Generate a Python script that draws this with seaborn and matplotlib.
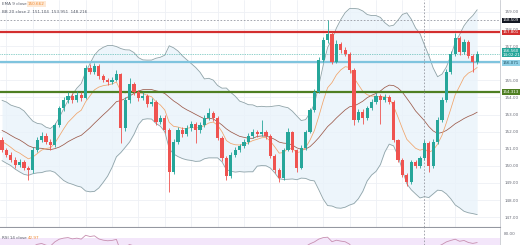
import numpy as np
import pandas as pd
import matplotlib
matplotlib.use("Agg")
import matplotlib.pyplot as plt
import matplotlib.transforms as mtransforms
import seaborn as sns

# ---------------- data ----------------
# closes before the visible window (only feed the indicators)
pre_closes = [152.8, 153.2, 153.5, 153.0, 152.6, 153.1, 153.4, 152.9, 152.3, 152.0,
              152.4, 151.8, 151.2, 151.6, 151.0, 150.6, 151.1, 151.5, 151.9, 151.4]

first_open = 151.51
closes = [150.93, 150.64, 150.34, 150.05, 150.23, 149.88, 149.76, 150.93, 151.51, 151.75,
          151.40, 151.22, 152.39, 153.38, 153.85, 154.09, 153.85, 154.14, 153.97, 155.72,
          155.49, 155.84, 155.26, 155.02, 154.90, 155.02, 155.37, 152.21, 153.85, 154.79,
          154.32, 153.97, 154.09, 153.62, 153.74, 152.57, 152.80, 152.10, 149.64, 151.40,
          152.10, 151.86, 152.21, 152.45, 152.10, 152.39, 152.80, 153.09, 152.80, 151.63,
          150.46, 149.41, 150.64, 150.93, 151.16, 151.40, 151.75, 151.98, 151.86, 151.98,
          151.75, 150.58, 149.76, 149.29, 150.93, 151.98, 150.93, 149.88, 151.05, 151.98,
          153.27, 154.32, 156.19, 157.36, 157.71, 156.07, 157.13, 156.78, 156.54, 155.61,
          152.68, 153.15, 152.80, 153.38, 153.74, 154.09, 153.85, 154.03, 153.74, 151.51,
          150.34, 149.47, 149.06, 150.23, 149.99, 150.46, 151.34, 149.99, 151.40, 152.68,
          153.85, 155.49, 156.54, 157.48, 156.66, 157.24, 156.43, 156.07, 156.56]
highs = [151.70, 151.05, 150.80, 150.50, 150.40, 150.35, 150.00, 151.10, 151.70, 152.00,
         151.90, 151.55, 152.50, 153.50, 154.05, 154.30, 154.25, 154.35, 154.30, 155.90,
         155.95, 156.00, 155.95, 155.40, 155.15, 155.20, 155.61, 155.45, 154.00, 155.14,
         154.90, 154.45, 154.30, 154.20, 153.95, 153.85, 153.00, 152.95, 152.20, 151.55,
         152.30, 152.25, 152.40, 152.60, 152.55, 152.55, 152.95, 153.38, 153.20, 152.90,
         151.75, 150.60, 150.80, 151.10, 151.30, 151.55, 151.90, 152.15, 152.10, 152.68,
         152.10, 151.85, 150.70, 149.90, 151.05, 152.21, 152.05, 151.00, 151.20, 152.10,
         153.40, 154.50, 156.35, 157.55, 158.53, 157.85, 157.36, 157.25, 156.95, 156.65,
         155.70, 153.35, 153.30, 153.50, 153.90, 154.25, 154.20, 154.20, 154.15, 153.85,
         151.60, 150.45, 149.60, 150.35, 150.35, 150.60, 151.50, 151.45, 151.55, 152.85,
         154.00, 155.65, 156.70, 157.77, 157.60, 157.40, 157.35, 156.55, 156.70]
lows = [150.80, 150.50, 150.20, 149.90, 149.95, 149.75, 149.17, 149.60, 150.80, 151.40,
        151.25, 150.95, 151.10, 152.25, 153.20, 153.70, 153.70, 153.75, 153.80, 153.90,
        155.35, 155.40, 155.10, 154.90, 154.75, 154.80, 154.95, 151.34, 152.05, 153.70,
        154.15, 153.80, 153.85, 153.45, 153.50, 152.40, 152.45, 151.90, 148.47, 149.50,
        151.25, 151.70, 151.75, 152.05, 151.34, 151.95, 152.25, 152.70, 152.65, 151.50,
        150.30, 149.17, 149.30, 150.50, 150.80, 151.05, 151.30, 151.65, 151.70, 151.75,
        151.60, 150.45, 149.60, 149.06, 149.20, 150.85, 150.80, 149.64, 149.80, 150.95,
        151.90, 153.15, 154.25, 156.10, 157.20, 155.95, 156.00, 156.60, 156.40, 155.45,
        152.39, 152.55, 152.45, 152.70, 153.25, 153.60, 152.45, 153.75, 153.60, 151.40,
        150.20, 149.35, 148.82, 148.95, 149.85, 149.90, 150.35, 149.64, 149.90, 151.30,
        152.55, 153.75, 155.40, 156.45, 156.50, 156.55, 156.30, 155.49, 155.95]

level_red = 157.801
level_blue = 156.071
level_green = 154.313
crosshair_price = 158.509
crosshair_bar = 96
price_ticks = [147, 148, 149, 150, 151, 152, 153, 154, 155, 156, 157, 158, 159]

legend_ema = ("EMA 9 close", "150.662")
legend_bb = "BB 20 close 2  151.104  153.951  148.216"
legend_rsi = ("RSI 14 close", "42.97")
badge_close = "156.560\n14:02:21"
rsi_tick = "80.00"

# ---------------- indicators ----------------
opens = [first_open] + closes[:-1]
allc = pd.Series(pre_closes + closes, dtype=float)
n = len(closes)
basis = allc.rolling(20).mean()
sd = allc.rolling(20).std(ddof=0)
upper = (basis + 2 * sd).iloc[-n:].to_numpy()
lower = (basis - 2 * sd).iloc[-n:].to_numpy()
mid = basis.iloc[-n:].to_numpy()
ema9 = allc.ewm(span=9, adjust=False).mean().iloc[-n:].to_numpy()
delta = allc.diff()
gain = delta.clip(lower=0).ewm(alpha=1 / 14, adjust=False).mean()
loss = (-delta.clip(upper=0)).ewm(alpha=1 / 14, adjust=False).mean()
rsi = (100 - 100 / (1 + gain / loss)).iloc[-n:].to_numpy()

idx = np.arange(n)
o = np.array(opens); c = np.array(closes); h = np.array(highs); l = np.array(lows)
up = c >= o
UPC, DNC = "#26a69a", "#ef5350"
cols = np.where(up, UPC, DNC)

# ---------------- figure ----------------
sns.set_style("white")
plt.rcParams["font.family"] = ["DejaVu Sans"]
W, H = 520, 245
fig = plt.figure(figsize=(W / 100, H / 100), dpi=100)
fig.patch.set_facecolor("white")
ax = fig.add_axes([0, 18 / H, 500 / W, 227 / H])
ax2 = fig.add_axes([0, 0, 500 / W, 17 / H])

xl = (-2 / 4.4, 498 / 4.4)
ax.set_xlim(*xl)
ax.set_ylim(159.70 - 227 / 17.1, 159.70)

# grid
ax.set_yticks(price_ticks)
ax.set_yticklabels([f"{t:.2f}" for t in price_ticks])
ax.set_xticks(idx[1::6])
ax.set_xticklabels([])
ax.grid(True, color="#eef0f5", lw=0.6)
ax.set_axisbelow(True)
ax.yaxis.tick_right()
ax.tick_params(axis="y", length=0, labelsize=3.0, pad=3, labelcolor="#6a6d78")
ax.tick_params(axis="x", length=0)
for s in ("top", "left"):
    ax.spines[s].set_visible(False)
ax.spines["right"].set_color("#c8cad0"); ax.spines["right"].set_linewidth(0.6)
ax.spines["bottom"].set_color("#9598a1"); ax.spines["bottom"].set_linewidth(0.8)

# bollinger
ax.fill_between(idx, lower, upper, color="#e9f3fb", alpha=0.8, lw=0, zorder=1)
sns.lineplot(x=idx, y=upper, ax=ax, color="#8fa3a8", lw=0.6, zorder=2)
sns.lineplot(x=idx, y=lower, ax=ax, color="#8fa3a8", lw=0.6, zorder=2)
sns.lineplot(x=idx, y=mid, ax=ax, color="#9c5a4a", lw=0.55, zorder=2)
sns.lineplot(x=idx, y=ema9, ax=ax, color="#f0a46a", lw=0.55, zorder=2)

# levels
ax.axhline(level_red, color="#d32f2f", lw=1.6, zorder=3)
ax.axhline(level_blue, color="#7fc4de", lw=1.6, zorder=3)
ax.axhline(level_green, color="#4f7f22", lw=1.6, zorder=3)
ax.axhline(closes[-1], color=UPC, lw=0.5, ls=(0, (1, 1.5)), zorder=3)

# crosshair
ax.axvline(crosshair_bar, color="#9598a1", lw=0.6, ls=(0, (2, 2)), zorder=3)
ax.axhline(crosshair_price, color="#9598a1", lw=0.6, ls=(0, (2, 2)), zorder=3)

# candles
ax.vlines(idx, l, h, colors=cols, lw=0.6, zorder=4)
body = np.maximum(np.abs(c - o), 0.04)
ax.bar(idx, body, bottom=np.minimum(o, c), width=0.72, color=cols, lw=0, zorder=5)

# badges on price scale
tr = mtransforms.blended_transform_factory(ax.transAxes, ax.transData)
def badge(y, txt, fc, tc="white"):
    ax.text(1.006, y, txt, transform=tr, ha="left", va="center", fontsize=2.9,
            color=tc, clip_on=False, zorder=10, linespacing=1.0,
            bbox=dict(boxstyle="square,pad=0.2", fc=fc, ec="none"))
badge(crosshair_price, f"{crosshair_price:.3f}", "#131722")
badge(level_red, f"{level_red:.3f}", "#d32f2f")
badge(156.62, badge_close, UPC)
badge(level_blue - 0.04, f"{level_blue:.3f}", "#8fd0e6", "#1e4f60")
badge(level_green, f"{level_green:.3f}", "#4f7f22")

# legend texts
fig.text(2 / W, 1 - 4 / H, legend_ema[0], fontsize=3.0, color="#555a66", va="center")
fig.text(28 / W, 1 - 4 / H, legend_ema[1], fontsize=3.0, color="#f08a30", va="center",
         bbox=dict(boxstyle="square,pad=0.15", fc="#fde9d6", ec="none"))
fig.text(2 / W, 1 - 12 / H, legend_bb, fontsize=3.0, color="#555a66", va="center")

# RSI pane
ax2.set_xlim(*xl)
ax2.set_ylim(56, 90)
ax2.axhspan(30, 70, color="#f3e6fa", lw=0)
sns.lineplot(x=idx, y=rsi, ax=ax2, color="#c78fb0", lw=0.6)
ax2.axvline(crosshair_bar, color="#9598a1", lw=0.6, ls=(0, (2, 2)))
ax2.set_xticks([]); ax2.set_yticks([80]); ax2.set_yticklabels([rsi_tick])
ax2.yaxis.tick_right()
ax2.tick_params(axis="y", length=0, labelsize=3.0, pad=3, labelcolor="#6a6d78")
for s in ("top", "left", "bottom"):
    ax2.spines[s].set_visible(False)
ax2.spines["right"].set_color("#c8cad0"); ax2.spines["right"].set_linewidth(0.6)
ax2.set_xlabel(""); ax2.set_ylabel(""); ax.set_xlabel(""); ax.set_ylabel("")
fig.text(2 / W, 7 / H, legend_rsi[0], fontsize=3.0, color="#555a66", va="center")
fig.text(28 / W, 7 / H, legend_rsi[1], fontsize=3.0, color="#f08a30", va="center")

fig.savefig("out.png", dpi=100, facecolor="white")
